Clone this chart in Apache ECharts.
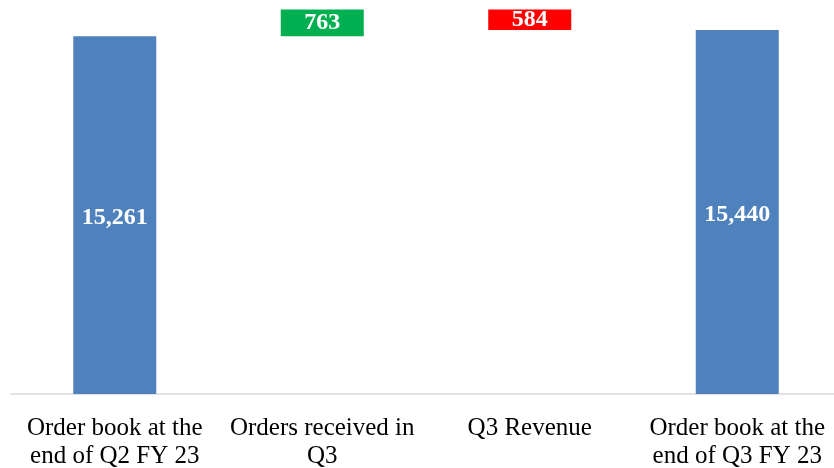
<!DOCTYPE html>
<html>
<head>
<meta charset="utf-8">
<script src="https://cdn.jsdelivr.net/npm/echarts@6/dist/echarts.min.js"></script>
<style>
    html, body { margin: 0; padding: 0; background: #fff; }
    #main { width: 834px; height: 468px; }
</style>
</head>
<body>
<div id="main"></div>
<script>
// categories and values
var categories = ['Order book at the\nend of Q2 FY 23', 'Orders received in\nQ3', 'Q3 Revenue', 'Order book at the\nend of Q3 FY 23'];
var values = [15261, 763, 584, 15440];
var kinds = ['total', 'up', 'down', 'total'];
var colors = { total: '#4F81BD', up: '#00B050', down: '#FF0000' };

// invisible base under each floating bar (waterfall)
var base = [];
var running = 0;
for (var i = 0; i < values.length; i++) {
    if (kinds[i] === 'total') {
        base.push(0);
        running = values[i];
    } else if (kinds[i] === 'up') {
        base.push(running);
        running += values[i];
    } else {
        running -= values[i];
        base.push(running);
    }
}

var chart = echarts.init(document.getElementById('main'));
var option = {
    animation: false,
    grid: {
        left: 11,
        top: 0,
        width: 830,
        height: 394,
        containLabel: false,
        outerBoundsMode: 'none'
    },
    xAxis: {
        type: 'category',
        data: categories,
        axisTick: { show: false },
        axisLine: { lineStyle: { color: '#D9D9D9', width: 1.5 } },
        axisLabel: {
            interval: 0,
            margin: 20,
            color: '#000',
            fontFamily: 'Liberation Serif',
            fontSize: 25,
            lineHeight: 28
        }
    },
    yAxis: {
        type: 'value',
        min: 5000,
        max: 16300,
        show: false,
        splitLine: { show: false }
    },
    series: [
        {
            type: 'bar',
            stack: 'wf',
            barWidth: 83,
            silent: true,
            itemStyle: { color: 'transparent' },
            data: base
        },
        {
            type: 'bar',
            stack: 'wf',
            barWidth: 83,
            data: values.map(function (v, i) {
                return {
                    value: v,
                    itemStyle: { color: colors[kinds[i]] },
                    label: { offset: kinds[i] === 'total' ? [0, 3] : [0, 0] }
                };
            }),
            label: {
                show: true,
                position: 'inside',
                color: '#fff',
                fontFamily: 'Liberation Serif',
                fontWeight: 'bold',
                fontSize: 24,
                formatter: function (p) {
                    return p.value.toLocaleString('en-US');
                }
            }
        }
    ]
};
option && chart.setOption(option);
</script>
</body>
</html>
